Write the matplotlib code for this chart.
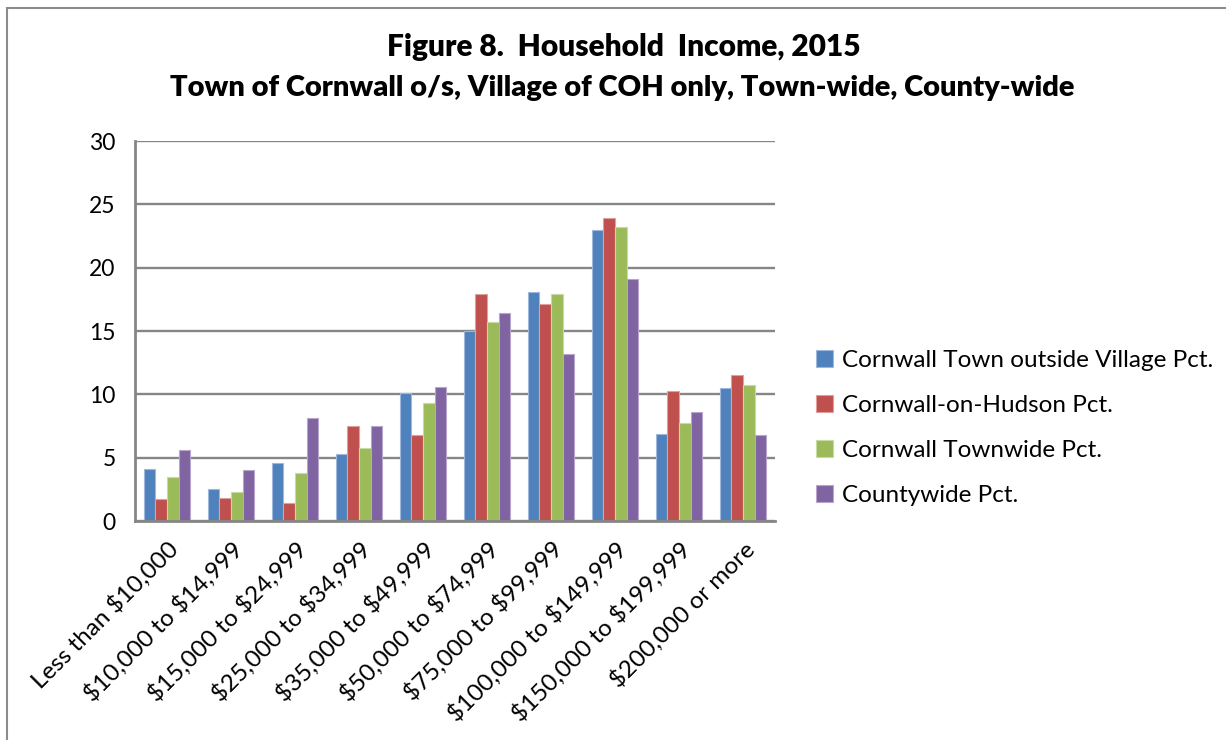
import matplotlib
matplotlib.use("Agg")
import matplotlib.pyplot as plt
from matplotlib.patches import Rectangle
import numpy as np

plt.rcParams['font.family'] = ['Lato', 'DejaVu Sans']
plt.rcParams['text.parse_math'] = False

categories = ["Less than $10,000", "$10,000 to $14,999", "$15,000 to $24,999",
              "$25,000 to $34,999", "$35,000 to $49,999", "$50,000 to $74,999",
              "$75,000 to $99,999", "$100,000 to $149,999", "$150,000 to $199,999",
              "$200,000 or more"]

town_outside_village = [4.1, 2.5, 4.6, 5.3, 10.1, 15.0, 18.1, 23.0, 6.9, 10.5]
cornwall_on_hudson = [1.7, 1.8, 1.4, 7.5, 6.8, 17.9, 17.1, 23.9, 10.3, 11.5]
cornwall_townwide = [3.5, 2.3, 3.8, 5.8, 9.3, 15.7, 17.9, 23.2, 7.7, 10.7]
countywide = [5.6, 4.0, 8.1, 7.5, 10.6, 16.4, 13.2, 19.1, 8.6, 6.8]

series_names = ["Cornwall Town outside Village Pct.", "Cornwall-on-Hudson Pct.",
                "Cornwall Townwide Pct.", "Countywide Pct."]
series_values = [town_outside_village, cornwall_on_hudson, cornwall_townwide, countywide]
colors = ["#4F81BD", "#C0504D", "#9BBB59", "#8064A2"]
edge_colors = ["#9DB8DC", "#DDA09E", "#C8DAA6", "#B7A6CC"]

y_ticks = [0, 5, 10, 15, 20, 25, 30]
grid_color = "#868686"

fig = plt.figure(figsize=(12.26, 7.4), dpi=100)
ax = fig.add_axes([135 / 1226, 1 - 521 / 740, 640 / 1226, 380 / 740])

# outer chart frame
fig.patches.append(Rectangle((7 / 1226, -0.05), 1.1, 1 - 8 / 740 + 0.05,
                             transform=fig.transFigure, fill=False,
                             edgecolor="#8C8C8C", linewidth=1.5))

x = np.arange(len(categories))
w = 1 / 5.5
for k, (name, vals) in enumerate(zip(series_names, series_values)):
    ax.bar(x + (k - 1.5) * w, vals, width=w, color=colors[k],
           edgecolor=edge_colors[k], linewidth=0.8, label=name, zorder=3)

ax.set_xlim(-0.5, len(categories) - 0.5)
ax.set_ylim(0, 30)
ax.set_yticks(y_ticks)
ax.set_yticklabels([str(t) for t in y_ticks], fontsize=16.5)
ax.yaxis.grid(True, color=grid_color, linewidth=1.7, zorder=0)
ax.set_axisbelow(True)
ax.tick_params(axis='y', length=0, pad=14)
ax.tick_params(axis='x', length=0, pad=12)
ax.set_xticks(x)
ax.set_xticklabels(categories, rotation=45, ha='right', va='top',
                   rotation_mode='anchor', fontsize=17.5)

for side in ['top', 'right']:
    ax.spines[side].set_visible(False)
for side in ['left', 'bottom']:
    ax.spines[side].set_color(grid_color)
    ax.spines[side].set_linewidth(2)
    ax.spines[side].set_zorder(4)

fig.text(624 / 1226, 1 - 47 / 740, "Figure 8.  Household  Income, 2015",
         ha='center', va='center', fontsize=21.5, fontweight='heavy')
fig.text(622 / 1226, 1 - 88 / 740,
         "Town of Cornwall o/s, Village of COH only, Town-wide, County-wide",
         ha='center', va='center', fontsize=21, fontweight='heavy')

fig.legend(loc='center left', bbox_to_anchor=(806 / 1226, 1 - 428 / 740),
           frameon=False, fontsize=17.5, handlelength=0.7, handleheight=0.7,
           handletextpad=0.4, labelspacing=1.0, borderaxespad=0)

fig.savefig("out.png", dpi=100)
